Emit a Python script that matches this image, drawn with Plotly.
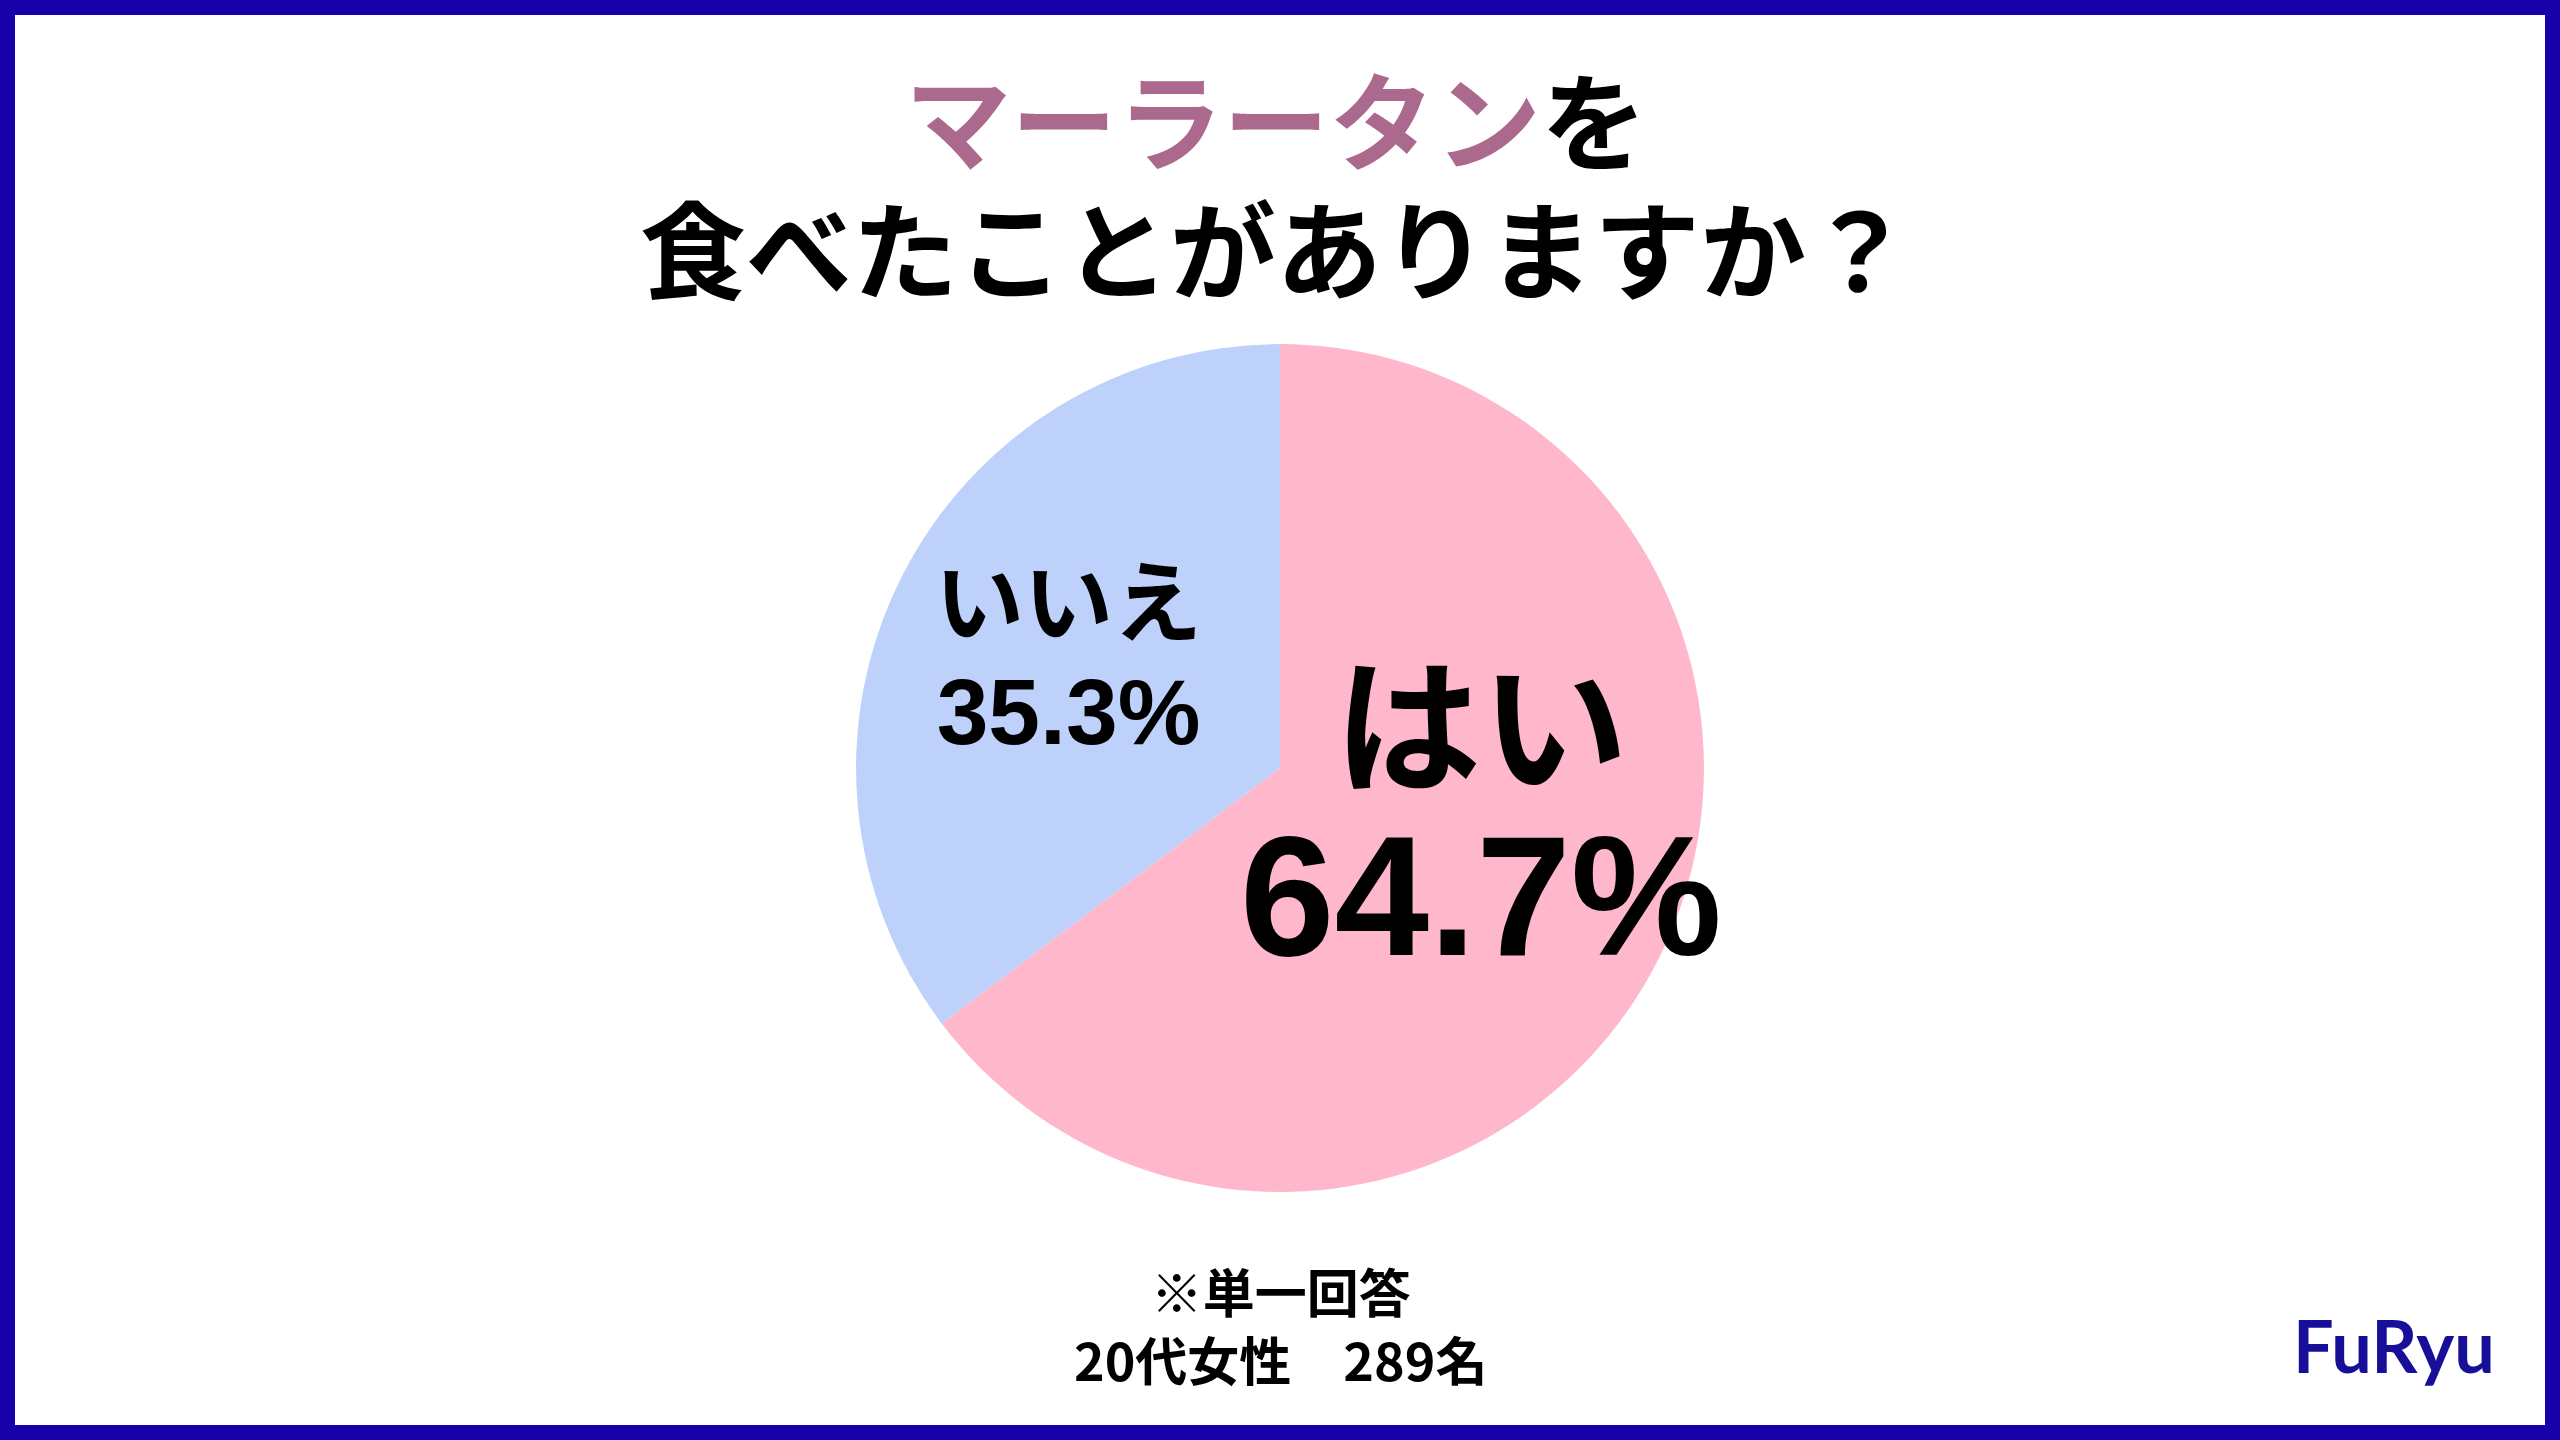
import plotly.graph_objects as go

# --- dane
labels = ["はい", "いいえ"]
values = [64.7, 35.3]
colors = ["#FFB8CB", "#BDD1FA"]

title_keyword = "マーラータン"
title_rest = "を"
title_line2 = "食べたことがありますか？"
note_line1 = "※単一回答"
note_line2 = "20代女性　289名"
logo_text = "FuRyu"

JP = "Noto Sans CJK JP"

fig = go.Figure()

fig.add_trace(go.Pie(
    labels=labels,
    values=values,
    sort=False,
    direction="clockwise",
    rotation=0,
    marker=dict(colors=colors, line=dict(width=0)),
    textinfo="none",
    hoverinfo="label+percent",
    showlegend=False,
    domain=dict(x=[0.3344, 0.6656], y=[0.1722, 0.7611]),
))

annotations = []


def note(text, x, y, size, family=JP, color="black"):
    # size = rozmiar bazowy -> odstęp między liniami (1.3 * size)
    annotations.append(dict(
        text=text, x=x, y=y, xref="paper", yref="paper",
        xanchor="center", yanchor="middle", showarrow=False,
        font=dict(family=family, size=size, color=color, weight=700),
    ))


def span(text, size, family=None, color=None):
    style = f"font-size:{size}px"
    if family:
        style += f";font-family:{family}"
    if color:
        style += f";color:{color}"
    return f"<span style='{style}'>{text}</span>"


# --- tytuł
note(
    span(span(title_keyword, 106, color="#AB6A8D") + title_rest, 106)
    + "<br>" + span(title_line2, 106),
    0.4985, 1 - 180 / 1440, 99,
)

# --- etykiety wycinków
note(
    span(labels[0], 147) + "<br>" + span(f"{values[0]}%", 170, family="Liberation Sans"),
    1481 / 2560, 1 - 800 / 1440, 134,
)
note(
    span(labels[1], 89) + "<br>" + span(f"{values[1]}%", 93, family="Liberation Sans"),
    1068 / 2560, 1 - 648 / 1440, 84,
)

# --- stopka
note(note_line1 + "<br>" + note_line2, 1280 / 2560, 1 - 1324 / 1440, 52)

# --- logo
annotations.append(dict(
    text=logo_text, x=2394 / 2560, y=1 - 1345 / 1440, xref="paper", yref="paper",
    xanchor="center", yanchor="middle", showarrow=False,
    font=dict(family="Lato", size=72, color="#170E9A", weight=700),
))

fig.update_layout(
    width=2560,
    height=1440,
    margin=dict(l=0, r=0, t=0, b=0),
    paper_bgcolor="white",
    plot_bgcolor="white",
    annotations=annotations,
    shapes=[dict(
        type="rect", xref="paper", yref="paper", x0=0, y0=0, x1=1, y1=1,
        line=dict(color="#1700A8", width=30), fillcolor="rgba(0,0,0,0)",
    )],
)

fig.write_html(
    "out.html",
    config={"displayModeBar": False},
    post_script="document.body.style.margin='0';",
)
